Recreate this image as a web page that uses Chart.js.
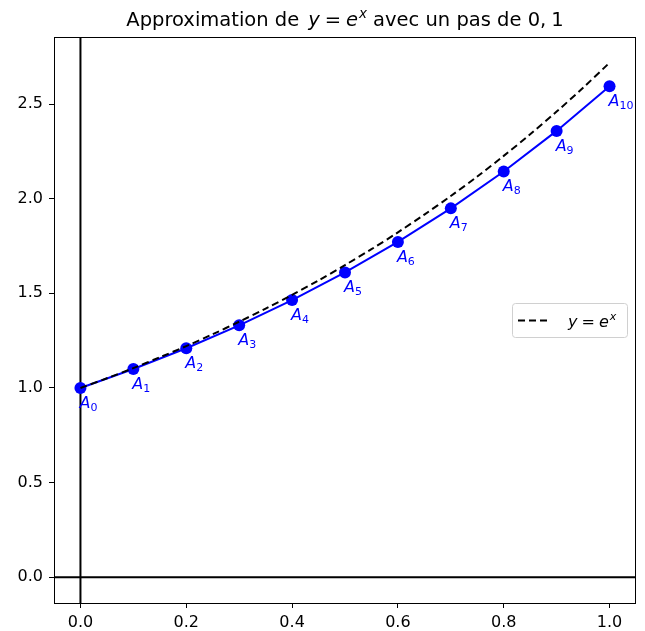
<!DOCTYPE html>
<html>
<head>
<meta charset="utf-8">
<script src="https://cdn.jsdelivr.net/npm/chart.js@4.4.1/dist/chart.umd.min.js"></script>
<style>
    html, body { margin: 0; padding: 0; background: #fff; }
    #wrap { width: 645px; height: 631px; }
</style>
</head>
<body>
<div id="wrap"><canvas id="eulerChart"></canvas></div>
<script>
// points de la méthode d'Euler, pas de 0,1
const stepX = [0, 0.1, 0.2, 0.3, 0.4, 0.5, 0.6, 0.7, 0.8, 0.9, 1.0];
const eulerY = [1, 1.1, 1.21, 1.331, 1.4641, 1.6105, 1.7716, 1.9487, 2.1436, 2.3579, 2.5937];
// courbe y = e^x
const expX = [0, 0.05, 0.1, 0.15, 0.2, 0.25, 0.3, 0.35, 0.4, 0.45, 0.5,
              0.55, 0.6, 0.65, 0.7, 0.75, 0.8, 0.85, 0.9, 0.95, 1.0];
const expY = [1, 1.051, 1.105, 1.162, 1.221, 1.284, 1.350, 1.419, 1.492, 1.568, 1.649,
              1.733, 1.822, 1.916, 2.014, 2.117, 2.226, 2.340, 2.460, 2.586, 2.718];
const xTicks = [0, 0.2, 0.4, 0.6, 0.8, 1.0];
const yTicks = [0, 0.5, 1.0, 1.5, 2.0, 2.5];

const FONT = "'DejaVu Sans', sans-serif";

const axesLines = {
    id: 'axesLines',
    beforeDatasetsDraw(chart) {
        const {ctx, chartArea, scales} = chart;
        const x0 = scales.x.getPixelForValue(0);
        const y0 = scales.y.getPixelForValue(0);
        ctx.save();
        ctx.strokeStyle = '#000';
        ctx.lineWidth = 2;
        ctx.beginPath();
        ctx.moveTo(x0, chartArea.top);
        ctx.lineTo(x0, chartArea.bottom);
        ctx.moveTo(chartArea.left, y0);
        ctx.lineTo(chartArea.right, y0);
        ctx.stroke();
        ctx.restore();
    },
    afterDraw(chart) {
        const {ctx, chartArea} = chart;
        ctx.save();
        ctx.strokeStyle = '#000';
        ctx.lineWidth = 1;
        ctx.strokeRect(chartArea.left + 0.5, chartArea.top + 0.5,
            chartArea.right - chartArea.left - 1, chartArea.bottom - chartArea.top);
        ctx.restore();
    }
};

const pointNames = {
    id: 'pointNames',
    afterDatasetsDraw(chart) {
        const {ctx} = chart;
        const meta = chart.getDatasetMeta(0);
        ctx.save();
        ctx.fillStyle = '#0000ff';
        ctx.textBaseline = 'alphabetic';
        ctx.textAlign = 'left';
        meta.data.forEach((pt, i) => {
            const px = pt.x, py = pt.y + 20;
            ctx.font = 'italic 16px ' + FONT;
            ctx.fillText('A', px - 1, py);
            const w = ctx.measureText('A').width;
            ctx.font = '11px ' + FONT;
            ctx.fillText(String(i), px - 1 + w, py + 3);
        });
        ctx.restore();
    }
};

// morceaux du titre, avec les espaces du mode maths
function drawRich(ctx, parts, cx, baseline) {
    let total = 0;
    parts.forEach(p => {
        ctx.font = p.f + FONT;
        p.w = ctx.measureText(p.t).width;
        total += p.w + (p.gap || 0);
    });
    let x = cx - total / 2;
    parts.forEach(p => {
        ctx.font = p.f + FONT;
        ctx.fillText(p.t, x, baseline - (p.up || 0));
        x += p.w + (p.gap || 0);
    });
}

const titleAndLegend = {
    id: 'titleAndLegend',
    afterDraw(chart) {
        const {ctx, chartArea} = chart;
        ctx.save();
        ctx.fillStyle = '#000';
        ctx.textBaseline = 'alphabetic';
        ctx.textAlign = 'left';
        drawRich(ctx, [
            {t: 'Approximation de', f: '19.5px ', gap: 9},
            {t: 'y', f: 'italic 19.5px ', gap: 5},
            {t: '=', f: '19.5px ', gap: 5},
            {t: 'e', f: 'italic 19.5px ', gap: 1},
            {t: 'x', f: 'italic 13.5px ', up: 8, gap: 6},
            {t: 'avec un pas de 0,', f: '19.5px ', gap: 5},
            {t: '1', f: '19.5px '}
        ], (chartArea.left + chartArea.right) / 2, 26);

        // légende
        const bw = 115, bh = 34;
        const bx = chartArea.right - 9 - bw;
        const by = (chartArea.top + chartArea.bottom) / 2 - bh / 2;
        ctx.fillStyle = 'rgba(255,255,255,0.8)';
        ctx.strokeStyle = '#d0d0d0';
        ctx.lineWidth = 1;
        ctx.beginPath();
        ctx.roundRect(bx + 0.5, by + 0.5, bw, bh, 3);
        ctx.fill();
        ctx.stroke();
        const cy = by + bh / 2 + 0.5;
        ctx.strokeStyle = '#000';
        ctx.lineWidth = 2;
        ctx.setLineDash([7, 4]);
        ctx.beginPath();
        ctx.moveTo(bx + 6, cy);
        ctx.lineTo(bx + 39, cy);
        ctx.stroke();
        ctx.setLineDash([]);
        ctx.fillStyle = '#000';
        let lx = bx + 56;
        const lparts = [
            {t: 'y', f: 'italic 16px ', gap: 4},
            {t: '=', f: '16px ', gap: 4},
            {t: 'e', f: 'italic 16px ', gap: 1},
            {t: 'x', f: 'italic 11px ', up: 7}
        ];
        lparts.forEach(p => {
            ctx.font = p.f + FONT;
            ctx.fillText(p.t, lx, cy + 6 - (p.up || 0));
            lx += ctx.measureText(p.t).width + (p.gap || 0);
        });
        ctx.restore();
    }
};

new Chart(document.getElementById('eulerChart'), {
    type: 'line',
    data: {
        datasets: [
            {
                data: stepX.map((x, i) => ({x: x, y: eulerY[i]})),
                borderColor: '#0000ff',
                backgroundColor: '#0000ff',
                borderWidth: 2,
                pointRadius: 6,
                pointHoverRadius: 6,
                pointBorderWidth: 0,
                tension: 0,
                order: 1
            },
            {
                data: expX.map((x, i) => ({x: x, y: expY[i]})),
                borderColor: '#000',
                borderWidth: 2,
                borderDash: [7, 4],
                pointRadius: 0,
                tension: 0.3,
                fill: false,
                order: 0
            }
        ]
    },
    options: {
        responsive: true,
        maintainAspectRatio: false,
        animation: false,
        layout: {padding: {top: 37, right: 9, left: 0, bottom: 0}},
        plugins: {
            legend: {display: false},
            title: {display: false},
            tooltip: {enabled: false}
        },
        scales: {
            x: {
                type: 'linear',
                min: -0.05,
                max: 1.05,
                afterFit: s => { s.height = 28; },
                afterBuildTicks: s => { s.ticks = xTicks.map(v => ({value: v})); },
                grid: {drawOnChartArea: false, drawTicks: true, tickLength: 5, color: '#000'},
                border: {display: false},
                ticks: {
                    font: {family: FONT, size: 16},
                    color: '#000',
                    padding: 5,
                    maxRotation: 0,
                    callback: v => v.toFixed(1)
                }
            },
            y: {
                type: 'linear',
                min: -0.136,
                max: 2.854,
                afterFit: s => { s.width = 54; },
                afterBuildTicks: s => { s.ticks = yTicks.map(v => ({value: v})); },
                grid: {drawOnChartArea: false, drawTicks: true, tickLength: 5, color: '#000'},
                border: {display: false},
                ticks: {
                    font: {family: FONT, size: 16},
                    color: '#000',
                    padding: 6,
                    callback: v => v.toFixed(1)
                }
            }
        }
    },
    plugins: [axesLines, pointNames, titleAndLegend]
});
</script>
</body>
</html>
